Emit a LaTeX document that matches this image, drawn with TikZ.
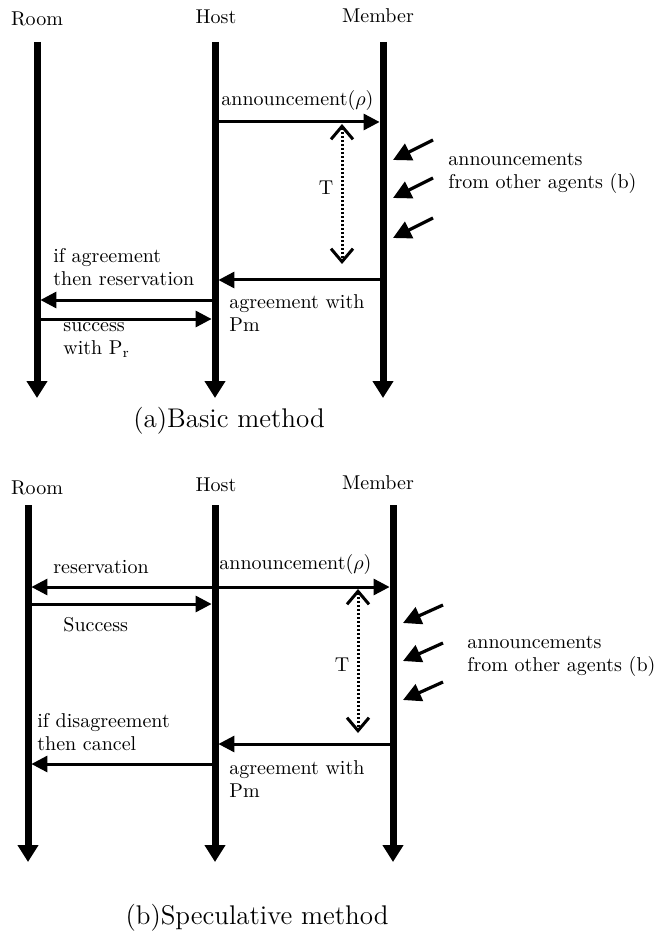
\documentclass[tikz,border=0pt]{standalone}
\usepackage{tikz}
\usetikzlibrary{arrows.meta,positioning}

\begin{document}
\begin{tikzpicture}[x=0.5pt, y=-0.5pt,
  font=\fontsize{10}{11.6}\selectfont,
  vida/.style={line width=3.5pt, -{Triangle[length=8.5pt,width=10pt]}},
  msg/.style={line width=1.5pt, -{Triangle[length=8pt,width=8pt]}, shorten >=1.7pt},
  plazo/.style={line width=1.5pt, dash pattern=on 1.1pt off 0.9pt,
    {Straight Barb[length=6.5pt,width=11pt]}-{Straight Barb[length=6.5pt,width=11pt]}},
  ajeno/.style={line width=1.6pt, -{Triangle[length=9pt,width=9pt]}},
  nota/.style={anchor=west, align=left, inner sep=0pt},
  actor/.style={inner sep=0pt},
  titulo/.style={inner sep=0pt, font=\fontsize{13.5}{15}\selectfont}]
  \useasboundingbox (0,0) rectangle (664,935);

  % (a) basic method
  \node[actor] (roomA) at (37,19) {Room};
  \node[actor] (hostA) at (216,17) {Host};
  \node[actor] (memberA) at (378,16) {Member};
  \coordinate (roomA0) at (37,42);   \coordinate (roomA1) at (37,398);
  \coordinate (hostA0) at (215,42);  \coordinate (hostA1) at (215,398);
  \coordinate (memberA0) at (383,42); \coordinate (memberA1) at (383,398);
  \draw[vida] (roomA0) -- (roomA1);
  \draw[vida] (hostA0) -- (hostA1);
  \draw[vida] (memberA0) -- (memberA1);

  \coordinate (anA0) at (215,122); \coordinate (anA1) at (383,122);
  \draw[msg] (anA0) -- (anA1);
  \node[nota] (anA) at (221,101) {announcement($\rho$)};

  \coordinate (tA0) at (342,124); \coordinate (tA1) at (342,264);
  \draw[plazo] (tA0) -- (tA1);
  \node[actor] (tA) at (326,188) {T};

  \foreach \y [count=\i] in {140,178,218} {
    \coordinate (inA\i) at (433,\y);
    \coordinate (inA\i') at (393,\y+20);
    \draw[ajeno] (inA\i) -- (inA\i');
  }
  \node[nota] (otrosA) at (448,173) {announcements\\from other agents (b)};

  \coordinate (agA0) at (383,280); \coordinate (agA1) at (215,280);
  \draw[msg] (agA0) -- (agA1);
  \node[nota] (agA) at (229,313) {agreement with\\Pm};

  \coordinate (reA0) at (215,300); \coordinate (reA1) at (37,300);
  \draw[msg] (reA0) -- (reA1);
  \node[nota] (reA) at (53,267) {if agreement\\then reservation};

  \coordinate (suA0) at (37,319); \coordinate (suA1) at (215,319);
  \draw[msg] (suA0) -- (suA1);
  \node[nota] (suA) at (63,340) {success\\with P$_\mathrm{r}$};

  \node[titulo] (capA) at (229,421) {(a)Basic method};

  % (b) speculative method
  \node[actor] (roomB) at (37,488) {Room};
  \node[actor] (hostB) at (216,485) {Host};
  \node[actor] (memberB) at (378,483) {Member};
  \coordinate (roomB0) at (28,505);   \coordinate (roomB1) at (28,862);
  \coordinate (hostB0) at (215,505);  \coordinate (hostB1) at (215,862);
  \coordinate (memberB0) at (393,505); \coordinate (memberB1) at (393,862);
  \draw[vida] (roomB0) -- (roomB1);
  \draw[vida] (hostB0) -- (hostB1);
  \draw[vida] (memberB0) -- (memberB1);

  \coordinate (anB0) at (215,587); \coordinate (anB1) at (393,587);
  \coordinate (reB1) at (28,587);
  \draw[msg] (anB0) -- (anB1);
  \draw[msg] (anB0) -- (reB1);
  \node[nota] (anB) at (219,564) {announcement($\rho$)};
  \node[nota] (reB) at (53,567) {reservation};

  \coordinate (suB0) at (28,604); \coordinate (suB1) at (215,604);
  \draw[msg] (suB0) -- (suB1);
  \node[nota] (suB) at (63,625) {Success};

  \coordinate (tB0) at (358,589); \coordinate (tB1) at (358,733);
  \draw[plazo] (tB0) -- (tB1);
  \node[actor] (tB) at (342,665) {T};

  \foreach \y [count=\i] in {605,643,682} {
    \coordinate (inB\i) at (443,\y);
    \coordinate (inB\i') at (403,\y+18);
    \draw[ajeno] (inB\i) -- (inB\i');
  }
  \node[nota] (otrosB) at (467,656) {announcements\\from other agents (b)};

  \coordinate (agB0) at (393,744); \coordinate (agB1) at (215,744);
  \draw[msg] (agB0) -- (agB1);
  \node[nota] (agB) at (229,779) {agreement with\\Pm};

  \coordinate (caB0) at (215,764); \coordinate (caB1) at (28,764);
  \draw[msg] (caB0) -- (caB1);
  \node[nota] (caB) at (37,732) {if disagreement\\then cancel};

  \node[titulo] (capB) at (257,918) {(b)Speculative method};
\end{tikzpicture}
\end{document}
